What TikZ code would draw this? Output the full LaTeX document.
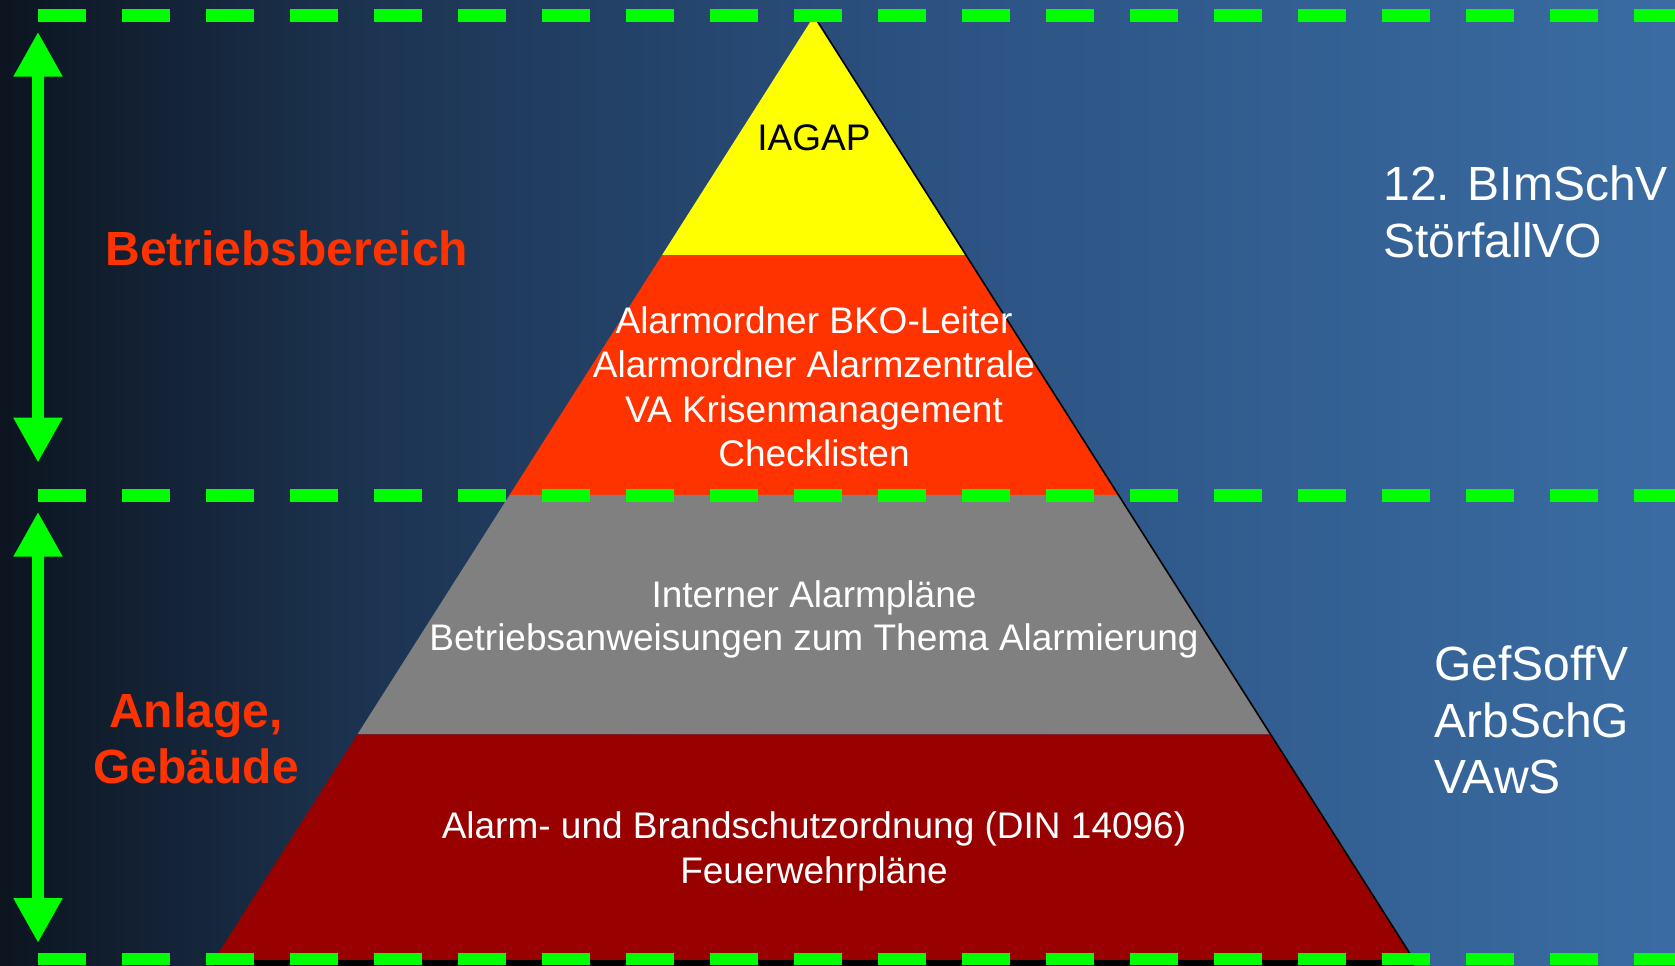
\documentclass[tikz,border=0pt]{standalone}
\usepackage{fontspec}
\setmainfont{Liberation Sans}
\usetikzlibrary{arrows.meta,calc}
\definecolor{bgA}{RGB}{12,21,32}
\definecolor{bgB}{RGB}{28,51,80}
\definecolor{bgC}{RGB}{43,81,128}
\definecolor{bgD}{RGB}{58,108,163}
\definecolor{lvlYellow}{RGB}{255,255,0}
\definecolor{lvlRed}{RGB}{255,51,0}
\definecolor{lvlGray}{RGB}{128,128,128}
\definecolor{lvlDark}{RGB}{153,0,0}
\definecolor{dashGreen}{RGB}{0,255,0}
\definecolor{labelRed}{RGB}{255,51,0}
\pgfdeclarehorizontalshading{bgshade}{100bp}{color(0bp)=(bgA); color(25bp)=(bgA); color(35.75bp)=(bgB); color(52bp)=(bgC); color(75bp)=(bgD); color(100bp)=(bgD)}
\begin{document}
\begin{tikzpicture}[x=0.5pt,y=-0.5pt,
  sepline/.style={draw=dashGreen, line width=6.25pt, dash pattern=on 24pt off 18pt},
  rangearrow/.style={draw=dashGreen, line width=6.3pt,
    {Triangle[length=22.5pt,width=23pt]}-{Triangle[length=22.5pt,width=23pt]}},
  pyrtext/.style={font=\fontsize{18.5pt}{22pt}\selectfont, text=white, anchor=base, inner sep=0pt},
  sidelabel/.style={font=\bfseries\fontsize{24pt}{28pt}\selectfont, text=labelRed, anchor=base, inner sep=0pt},
  lawtext/.style={font=\fontsize{24pt}{28pt}\selectfont, text=white, anchor=base west, inner sep=0pt}]
\useasboundingbox (0,0) rectangle (1675,965);
\shade[shading=bgshade] (0,0) rectangle (1675,965);
% pyramid geometry
\coordinate (apex) at (814,16);
\coordinate (baseL) at (214,960);
\coordinate (baseR) at (1414,960);
\coordinate (aL) at ($(apex)!0.2532!(baseL)$);
\coordinate (aR) at ($(apex)!0.2532!(baseR)$);
\coordinate (bL) at ($(apex)!0.5074!(baseL)$);
\coordinate (bR) at ($(apex)!0.5074!(baseR)$);
\coordinate (cL) at ($(apex)!0.7611!(baseL)$);
\coordinate (cR) at ($(apex)!0.7611!(baseR)$);
\fill[lvlYellow] (apex) -- (aR) -- (aL) -- cycle;
\fill[lvlRed] (aL) -- (aR) -- (bR) -- (bL) -- cycle;
\fill[lvlGray] (bL) -- (bR) -- (cR) -- (cL) -- cycle;
\fill[lvlDark] (cL) -- (cR) -- (baseR) -- (baseL) -- cycle;
\fill[black] (baseL) rectangle ($(baseR)+(0,8)$);
\draw[black, line width=0.8pt] (apex) -- (baseR);
% separator lines
\coordinate (topS) at (37.5,15.5);
\coordinate (topE) at (1675,15.5);
\coordinate (midS) at (37.5,495.5);
\coordinate (midE) at (1675,495.5);
\coordinate (botS) at (37.5,959);
\coordinate (botE) at (1675,959);
\draw[sepline] (topS) -- (topE);
\draw[sepline] (midS) -- (midE);
\draw[sepline] (botS) -- (botE);
% range arrows
\coordinate (r1t) at (38,31.7);
\coordinate (r1b) at (38,462.7);
\coordinate (r2t) at (38,511.7);
\coordinate (r2b) at (38,943);
\draw[rangearrow] (r1t) -- (r1b);
\draw[rangearrow] (r2t) -- (r2b);
% pyramid texts
\node[pyrtext, text=black] (t0) at (814,150) {IAGAP};
\node[pyrtext] (t1a) at (814,333) {Alarmordner BKO-Leiter};
\node[pyrtext] (t1b) at (814,377.6) {Alarmordner Alarmzentrale};
\node[pyrtext] (t1c) at (814,422.2) {VA Krisenmanagement};
\node[pyrtext] (t1d) at (814,466.8) {Checklisten};
\node[pyrtext] (t2a) at (814,607) {Interner Alarmpläne};
\node[pyrtext] (t2b) at (814,650) {Betriebsanweisungen zum Thema Alarmierung};
\node[pyrtext] (t3a) at (814,838) {Alarm- und Brandschutzordnung (DIN 14096)};
\node[pyrtext] (t3b) at (814,883) {Feuerwehrpläne};
% side labels
\node[sidelabel, anchor=base west] (lb1) at (105,265) {Betriebsbereich};
\node[sidelabel] (lb2a) at (196,727) {Anlage,};
\node[sidelabel] (lb2b) at (196,783) {Gebäude};
% law texts
\node[lawtext] (law1a) at (1383,200) {12. BImSchV};
\node[lawtext] (law1b) at (1383,257) {StörfallVO};
\node[lawtext] (law2a) at (1434,680) {GefSoffV};
\node[lawtext] (law2b) at (1434,737) {ArbSchG};
\node[lawtext] (law2c) at (1434,793) {VAwS};
\end{tikzpicture}
\end{document}
